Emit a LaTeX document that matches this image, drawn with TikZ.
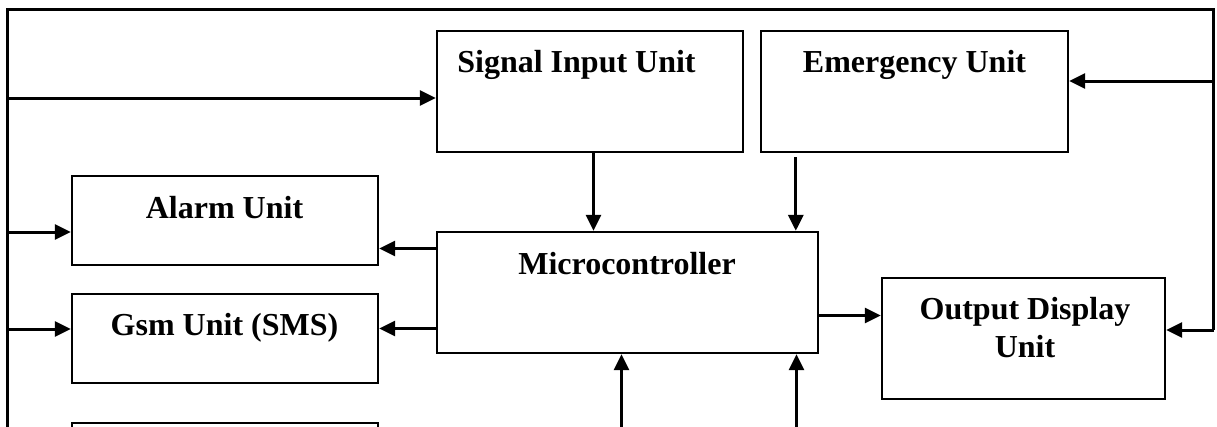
\documentclass[tikz,border=0pt]{standalone}
\usepackage{fontspec}
\setmainfont{Liberation Serif}
\usetikzlibrary{arrows.meta}
\tikzset{
  box/.style={draw, line width=2.4pt, rectangle, inner sep=0pt},
  lbl/.style={font=\fontsize{32}{38}\selectfont\bfseries, inner sep=0pt, anchor=base},
  wire/.style={line width=3pt},
  arr/.style={wire, -{Triangle[length=16pt,width=15pt]}}
}
\begin{document}
\begin{tikzpicture}[x=1pt,y=-1pt]
  \clip (0,0) rectangle (1217,426);
  \fill[white] (0,0) rectangle (1217,426);

  % blocks
  \node[box, minimum width=306pt, minimum height=121pt] (sig)   at (590,91.5)   {};
  \node[box, minimum width=307pt, minimum height=121pt] (emg)   at (914.5,91.5) {};
  \node[box, minimum width=306pt, minimum height=89pt]  (alarm) at (225,220.5)  {};
  \node[box, minimum width=306pt, minimum height=89pt]  (gsm)   at (225,338.5)  {};
  \node[box, minimum width=306pt, minimum height=89pt]  (unit4) at (225,467.5)  {};
  \node[box, minimum width=381pt, minimum height=121pt] (mcu)   at (627.5,292.5) {};
  \node[box, minimum width=283pt, minimum height=121pt] (out)   at (1023.5,338.5) {};

  % block titles
  \node[lbl] (sigt)   at (576.5,72) {Signal Input Unit};
  \node[lbl] (emgt)   at (914.5,72) {Emergency Unit};
  \node[lbl] (alarmt) at (224.5,218) {Alarm Unit};
  \node[lbl] (gsmt)   at (224.5,335) {Gsm Unit (SMS)};
  \node[lbl] (mcut)   at (627,274) {Microcontroller};
  \node[lbl] (outt1)  at (1025,319) {Output Display};
  \node[lbl] (outt2)  at (1025,357) {Unit};

  % outer feedback loop
  \coordinate (tl) at (7.5,9.5);
  \coordinate (tr) at (1213.5,9.5);
  \coordinate (bl) at (7.5,440);
  \coordinate (inOut) at ([yshift=8.5pt]out.east);
  \draw[wire, line join=miter] (bl) -- (tl) -- (tr) -- (tr |- inOut);

  % feeds from the left rail
  \coordinate (inSig)   at ([yshift=-6.5pt]sig.west);
  \coordinate (inAlarm) at ([yshift=-11.5pt]alarm.west);
  \coordinate (inGsm)   at ([yshift=9.5pt]gsm.west);
  \draw[arr] (tl |- inSig) -- (inSig);
  \draw[arr] (tl |- inAlarm) -- (inAlarm);
  \draw[arr] (tl |- inGsm) -- (inGsm);

  % feeds from the right rail
  \coordinate (inEmg) at ([yshift=10.5pt]emg.east);
  \draw[arr] (tr |- inEmg) -- (inEmg);
  \draw[arr] (tr |- inOut) -- (inOut);

  % inputs to the microcontroller
  \coordinate (sigOut) at ([xshift=3.5pt]sig.south);
  \draw[arr] (sigOut) -- (sigOut |- mcu.north);
  \coordinate (emgOut) at ([shift={(36,4)}]emg.south west);
  \draw[arr] (emgOut) -- (emgOut |- mcu.north);
  \coordinate (mcuInA) at ([xshift=-6pt]mcu.south);
  \coordinate (mcuInB) at ([xshift=169pt]mcu.south);
  \draw[arr] (mcuInA |- bl) -- (mcuInA);
  \draw[arr] (mcuInB |- bl) -- (mcuInB);

  % outputs of the microcontroller
  \coordinate (toAlarm) at ([yshift=44pt]mcu.west);
  \coordinate (toGsm)   at ([yshift=-36pt]mcu.west);
  \coordinate (toOut)   at ([yshift=-23pt]mcu.east);
  \draw[arr] (toAlarm) -- (toAlarm -| alarm.east);
  \draw[arr] (toGsm) -- (toGsm -| gsm.east);
  \draw[arr] (toOut) -- (toOut -| out.west);
\end{tikzpicture}
\end{document}
